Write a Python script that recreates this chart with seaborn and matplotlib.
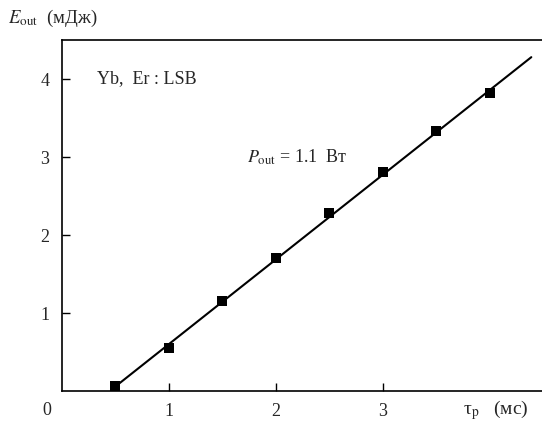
import matplotlib
matplotlib.use("Agg")
import matplotlib.pyplot as plt
import seaborn as sns
import pandas as pd

tau = [0.5, 1.0, 1.5, 2.0, 2.5, 3.0, 3.5, 4.0]
energy = [0.06, 0.55, 1.16, 1.71, 2.28, 2.81, 3.33, 3.82]
fit_x = [0.52, 4.39]
fit_y = [0.08, 4.28]
xticks = [1, 2, 3]
yticks = [1, 2, 3, 4]

sns.set_style("white")
plt.rcParams['font.family'] = ['Liberation Serif', 'DejaVu Serif']
plt.rcParams['mathtext.fontset'] = 'stix'

fig = plt.figure(figsize=(5.42, 4.25), dpi=100)
ax = fig.add_axes([62/542, 34/425, 480/542, 351/425])

df = pd.DataFrame({"tau": tau, "E": energy})
fit = pd.DataFrame({"x": fit_x, "y": fit_y})
sns.lineplot(data=fit, x="x", y="y", ax=ax, color="black", linewidth=1.5)
sns.scatterplot(data=df, x="tau", y="E", ax=ax, marker="s", color="black",
                s=60, edgecolor="black", linewidth=0, zorder=3)

ax.set_xlim(0, 4.49)
ax.set_ylim(0, 4.5)
ax.set_xlabel("")
ax.set_ylabel("")
ax.set_xticks(xticks)
ax.set_yticks(yticks)
ax.set_xticklabels([str(t) for t in xticks])
ax.set_yticklabels([str(t) for t in yticks])
ax.tick_params(axis='both', direction='in', length=6, width=1, color='black',
               labelsize=13, pad=9, bottom=True, left=True)
for s in ['left', 'bottom', 'top']:
    ax.spines[s].set_color('black')
    ax.spines[s].set_linewidth(1.2)
ax.spines['right'].set_visible(False)

ax.text(3.75, -0.25, 'τ$_{\\rm p}$   (мс)', fontsize=14, ha='left', va='center')
ax.text(-0.14, -0.25, '0', fontsize=13, ha='center', va='center')
fig.text(8/542, 1 - 18/425, r'$E_{\rm out}$  (мДж)', fontsize=13.5, ha='left', va='center')
ax.text(0.33, 4.0, 'Yb,  Er : LSB', fontsize=13, ha='left', va='center')
ax.text(1.73, 3.0, r'$P_{\rm out}$ = 1.1  Вт', fontsize=13, ha='left', va='center')

fig.savefig("out.png", dpi=100)
